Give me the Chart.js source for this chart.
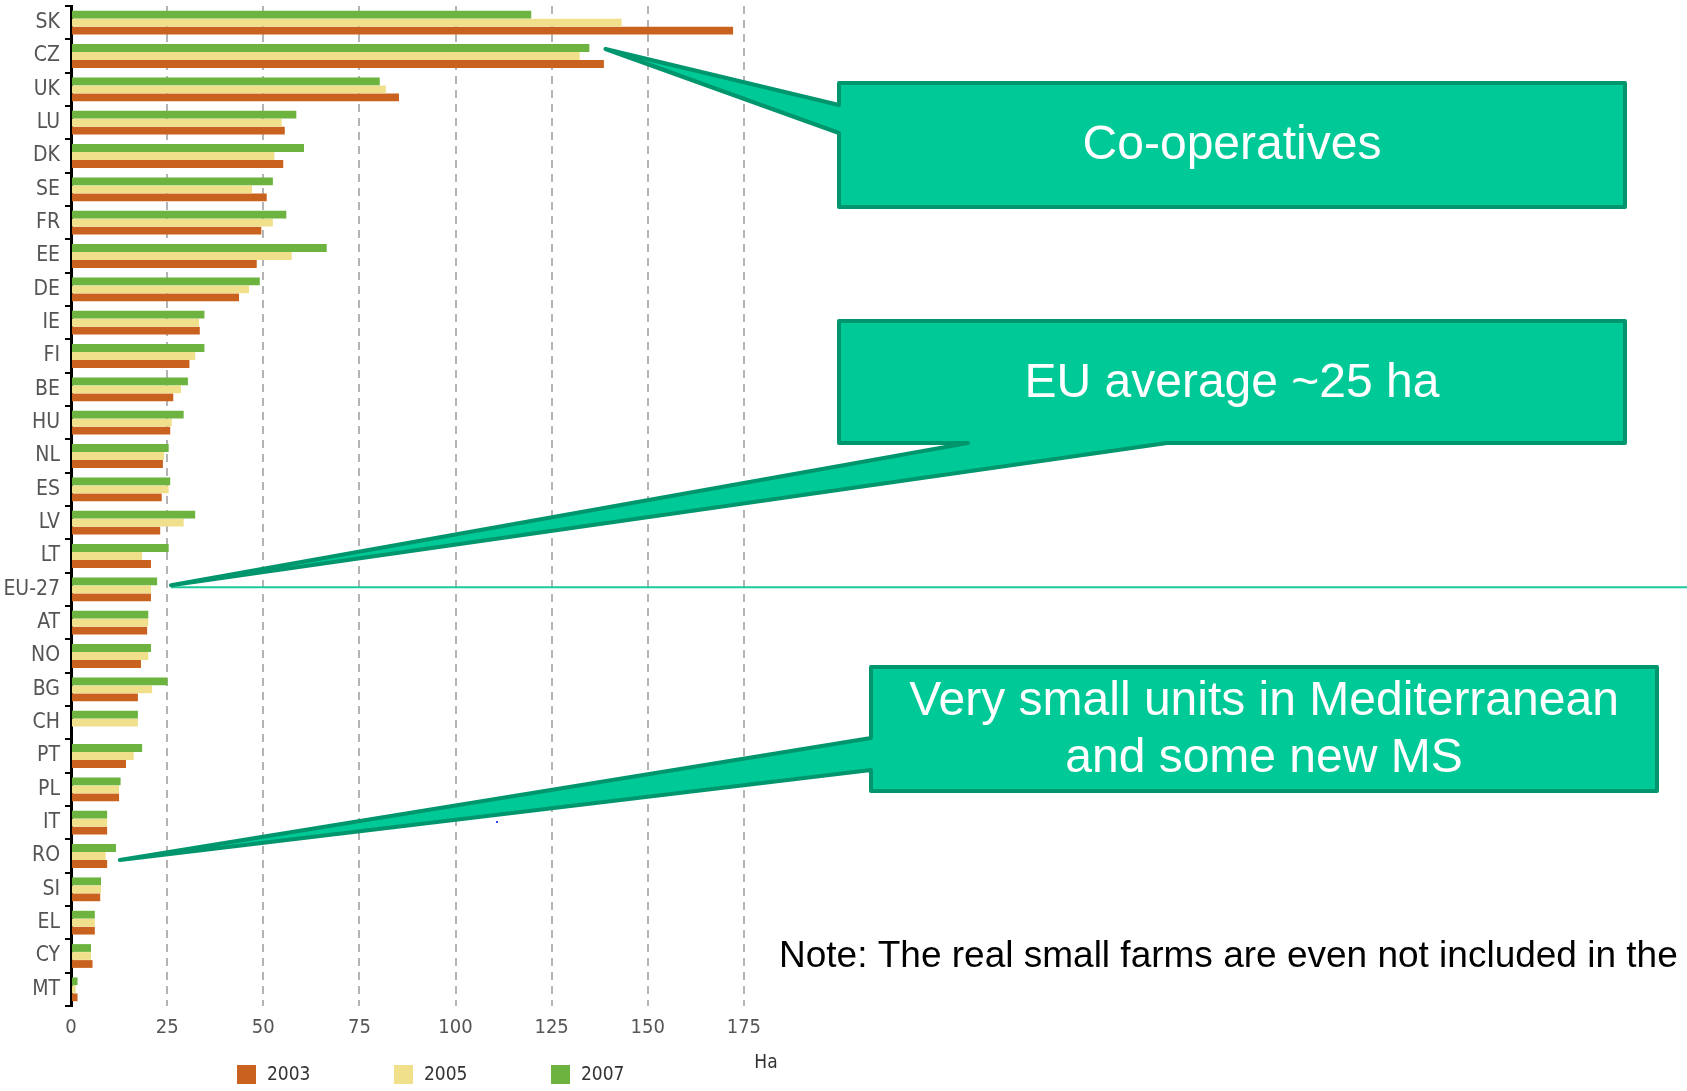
<!DOCTYPE html>
<html>
<head>
<meta charset="utf-8">
<script src="https://cdn.jsdelivr.net/npm/chart.js@4.4.1/dist/chart.umd.min.js"></script>
<style>
  html, body { margin: 0; padding: 0; background: #fff; }
  #contenedor { position: relative; width: 1687px; height: 1091px; }
</style>
</head>
<body>
<div id="contenedor"><canvas id="grafico" width="1687" height="1091"></canvas></div>
<script>
// Datos (tamano medio de explotacion, ha)
const paises = ['SK', 'CZ', 'UK', 'LU', 'DK', 'SE', 'FR', 'EE', 'DE', 'IE', 'FI', 'BE', 'HU', 'NL', 'ES',
    'LV', 'LT', 'EU-27', 'AT', 'NO', 'BG', 'CH', 'PT', 'PL', 'IT', 'RO', 'SI', 'EL', 'CY', 'MT'];
const ha2003 = [172.2, 138.6, 85.3, 55.6, 55.2, 50.9, 49.5, 48.3, 43.7, 33.5, 30.8, 26.6, 25.8, 23.9, 23.6,
    23.2, 20.8, 20.8, 19.8, 18.2, 17.4, null, 14.3, 12.5, 9.4, 9.4, 7.6, 6.2, 5.6, 1.7];
const ha2005 = [143.2, 132.3, 81.9, 54.8, 52.9, 47.1, 52.5, 57.4, 46.3, 33.3, 32.3, 28.6, 26.2, 24.2, 25.4,
    29.3, 18.5, 20.8, 20.1, 20.1, 21.1, 17.4, 16.3, 12.5, 9.4, 9.0, 7.8, 6.2, 5.2, 1.2];
const ha2007 = [119.7, 134.8, 80.3, 58.6, 60.6, 52.5, 56.0, 66.5, 49.1, 34.7, 34.7, 30.4, 29.3, 25.4, 25.8,
    32.3, 25.4, 22.4, 20.1, 20.8, 25.1, 17.4, 18.5, 12.9, 9.4, 11.7, 7.8, 6.2, 5.2, 1.7];
const anios = ['2003', '2005', '2007'];
const ticksX = [0, 25, 50, 75, 100, 125, 150, 175];

const colores = { '2003': '#C9621F', '2005': '#F1E08B', '2007': '#6CB43F' };
const fuenteEstrecha = '"Liberation Sans Narrow", "Arial Narrow", "DejaVu Sans Condensed", sans-serif';
const fuenteArial = '"Liberation Sans", Arial, sans-serif';

// Dibuja un globo (caja + puntero) como un solo trazado
function dibujarGlobo(ctx, puntos) {
    ctx.save();
    ctx.beginPath();
    ctx.moveTo(puntos[0][0], puntos[0][1]);
    for (let i = 1; i < puntos.length; i++) ctx.lineTo(puntos[i][0], puntos[i][1]);
    ctx.closePath();
    ctx.fillStyle = '#00C998';
    ctx.fill();
    ctx.lineWidth = 4;
    ctx.lineJoin = 'round';
    ctx.strokeStyle = '#00966D';
    ctx.stroke();
    ctx.restore();
}

function texto(ctx, t, x, y, font, color, align) {
    ctx.save();
    ctx.font = font;
    ctx.fillStyle = color;
    ctx.textAlign = align || 'center';
    ctx.textBaseline = 'middle';
    ctx.fillText(t, x, y);
    ctx.restore();
}

const anotaciones = {
    id: 'anotaciones',
    afterDraw(chart) {
        const ctx = chart.ctx;
        const x = chart.scales.x;
        const y = chart.scales.y;

        // puntas de los globos ancladas a las barras
        const punta1 = [x.getPixelForValue(139), y.getPixelForValue(paises.indexOf('CZ')) - 7];
        const punta2 = [x.getPixelForValue(26), y.getPixelForValue(paises.indexOf('EU-27')) - 4];
        const punta3 = [x.getPixelForValue(12.7), y.getPixelForValue(paises.indexOf('RO')) + 4];

        // linea de la media UE
        ctx.save();
        ctx.strokeStyle = '#1DC99C';
        ctx.lineWidth = 2;
        ctx.beginPath();
        ctx.moveTo(punta2[0], punta2[1] + 2);
        ctx.lineTo(chart.width, punta2[1] + 2);
        ctx.stroke();
        ctx.restore();

        dibujarGlobo(ctx, [[839, 83], [1625, 83], [1625, 207], [839, 207], [839, 133], punta1, [839, 105]]);
        dibujarGlobo(ctx, [[839, 321], [1625, 321], [1625, 443], [1167, 443], punta2, [968, 443], [839, 443]]);
        dibujarGlobo(ctx, [[871, 667], [1657, 667], [1657, 791], [871, 791], [871, 770], punta3, [871, 738]]);

        texto(ctx, 'Co-operatives', 1232, 146, '48px ' + fuenteArial, '#fff');
        texto(ctx, 'EU average ~25 ha', 1232, 384, '48px ' + fuenteArial, '#fff');
        texto(ctx, 'Very small units in Mediterranean', 1264, 702, '48px ' + fuenteArial, '#fff');
        texto(ctx, 'and some new MS', 1264, 759, '48px ' + fuenteArial, '#fff');
        texto(ctx, 'Note: The real small farms are even not included in the', 779, 957, '37px ' + fuenteArial, '#000', 'left');

        // punto azul suelto del original
        ctx.fillStyle = '#3344ee';
        ctx.fillRect(496, 821, 2, 2);

        // leyenda y titulo del eje
        const leyendaX = [237, 394, 551];
        anios.forEach((a, i) => {
            ctx.fillStyle = colores[a];
            ctx.fillRect(leyendaX[i], 1065, 19, 19);
            texto(ctx, a, leyendaX[i] + 30, 1075, '19px ' + fuenteEstrecha, '#333', 'left');
        });
        texto(ctx, 'Ha', 766, 1063, '19px ' + fuenteEstrecha, '#333');
    }
};

const ctx = document.getElementById('grafico').getContext('2d');
new Chart(ctx, {
    type: 'bar',
    data: {
        labels: paises,
        datasets: [
            { label: '2007', data: ha2007, backgroundColor: colores['2007'] },
            { label: '2005', data: ha2005, backgroundColor: colores['2005'] },
            { label: '2003', data: ha2003, backgroundColor: colores['2003'] }
        ]
    },
    options: {
        indexAxis: 'y',
        responsive: false,
        animation: false,
        layout: { padding: { top: 6, right: 847, left: 0, bottom: 0 } },
        datasets: { bar: { categoryPercentage: 0.72, barPercentage: 0.97 } },
        plugins: { legend: { display: false }, tooltip: { enabled: false } },
        scales: {
            x: {
                min: 0,
                max: 200,
                afterFit: s => { s.height = 85; s.paddingLeft = 0; s.paddingRight = 0; },
                ticks: {
                    stepSize: 25,
                    padding: 10,
                    color: '#555',
                    font: { family: fuenteEstrecha, size: 20 },
                    callback: v => ticksX.includes(v) ? v : null
                },
                grid: {
                    drawTicks: false,
                    lineWidth: 2,
                    color: c => (c.tick && ticksX.includes(c.tick.value) && c.tick.value !== 0) ? '#b4b4b4' : 'rgba(0,0,0,0)'
                },
                border: { display: false, dash: [8, 6] }
            },
            y: {
                afterFit: s => { s.width = 71; s.paddingTop = 0; s.paddingBottom = 0; },
                ticks: {
                    padding: 5,
                    color: '#555',
                    font: { family: fuenteEstrecha, size: 21 }
                },
                grid: {
                    drawOnChartArea: false,
                    drawTicks: true,
                    tickLength: 6,
                    lineWidth: 2,
                    color: '#000'
                },
                border: { display: true, color: '#000', width: 3 }
            }
        }
    },
    plugins: [anotaciones]
});
</script>
</body>
</html>
